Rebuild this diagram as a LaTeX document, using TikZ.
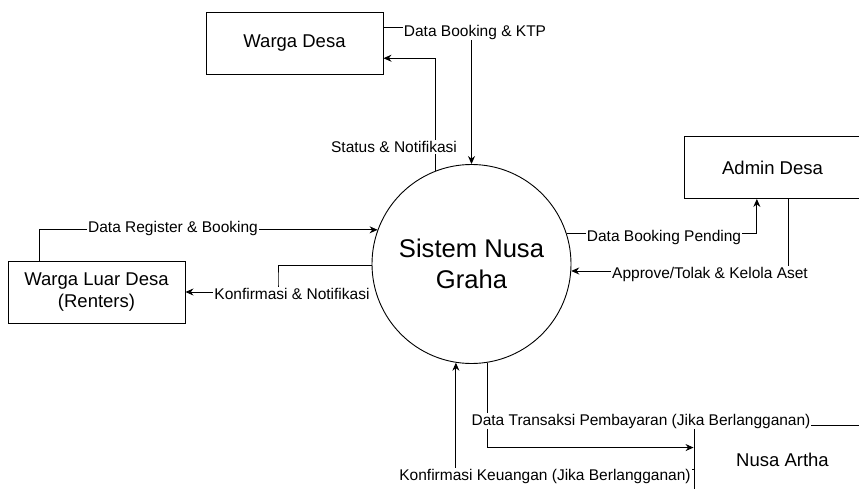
\documentclass[tikz,border=0pt]{standalone}
\usepackage{fontspec}
\setmainfont{Liberation Sans}
\usetikzlibrary{arrows.meta,calc}
\begin{document}
\begin{tikzpicture}[x=1pt,y=-1pt,
  ent/.style={draw,line width=0.9pt,minimum width=177pt,minimum height=62pt,inner sep=0pt,font=\fontsize{18.5}{22}\selectfont,align=center},
  proc/.style={draw,circle,line width=0.9pt,minimum size=199pt,inner sep=0pt,font=\fontsize{25.6}{31}\selectfont,align=center},
  flow/.style={line width=0.9pt,-{Stealth[length=8pt,width=7pt]}},
  lbl/.style={fill=white,inner sep=1pt,font=\fontsize{15.5}{18}\selectfont}]
\useasboundingbox (0,0) rectangle (859,489);
\fill[white] (0,0) rectangle (859,489);
\begin{scope}
\clip (0,0) rectangle (859,489);
\node[proc] (sys) at (471.5,264) {Sistem Nusa\\Graha};
\node[ent] (wd) at (294.5,43) {Warga Desa};
\node[ent] (wld) at (96.5,292) {Warga Luar Desa\\(Renters)};
\node[ent] (ad) at (772.5,167.5) {Admin Desa};
\node[ent,minimum height=70pt] (na) at (782.5,460) {Nusa Artha};
% connectors
\coordinate (wdA) at ($(wd.north east)!0.25!(wd.south east)$);
\coordinate (wdB) at ($(wd.north east)!0.742!(wd.south east)$);
\coordinate (wldA) at ($(wld.north west)!0.18!(wld.north east)$);
\coordinate (kn) at (278,279);
\coordinate (adA) at ($(ad.south west)!0.412!(ad.south east)$);
\coordinate (adB) at ($(ad.south west)!0.588!(ad.south east)$);
\coordinate (naA) at ($(na.north west)+(0,23)$);
\coordinate (naB) at ($(na.north west)+(0,45)$);
\draw[flow] (wdA) -| (sys.north);
\draw[flow] (sys.111.5) |- (wdB);
\draw[flow] (wldA) |- (sys.160.6);
\draw[flow] (sys.181) -| (kn) |- (wld.east);
\draw[flow] (sys.18.8) -| (adA);
\draw[flow] (adB) |- (sys.-4);
\draw[flow] (sys.-81.6) |- (naA);
\draw[flow] (naB) -| (sys.-99.5);
% labels
\node[lbl] (l1) at (475,32) {Data Booking \& KTP};
\node[lbl] (l2) at (394,147) {Status \& Notifikasi};
\node[lbl] (l3) at (173,228) {Data Register \& Booking};
\node[lbl] (l4) at (292,294) {Konfirmasi \& Notifikasi};
\node[lbl] (l5) at (664,237) {Data Booking Pending};
\node[lbl] (l6) at (710,274) {Approve/Tolak \& Kelola Aset};
\node[lbl] (l7) at (641,421) {Data Transaksi Pembayaran (Jika Berlangganan)};
\node[lbl] (l8) at (545,476) {Konfirmasi Keuangan (Jika Berlangganan)};
\end{scope}
\end{tikzpicture}
\end{document}
